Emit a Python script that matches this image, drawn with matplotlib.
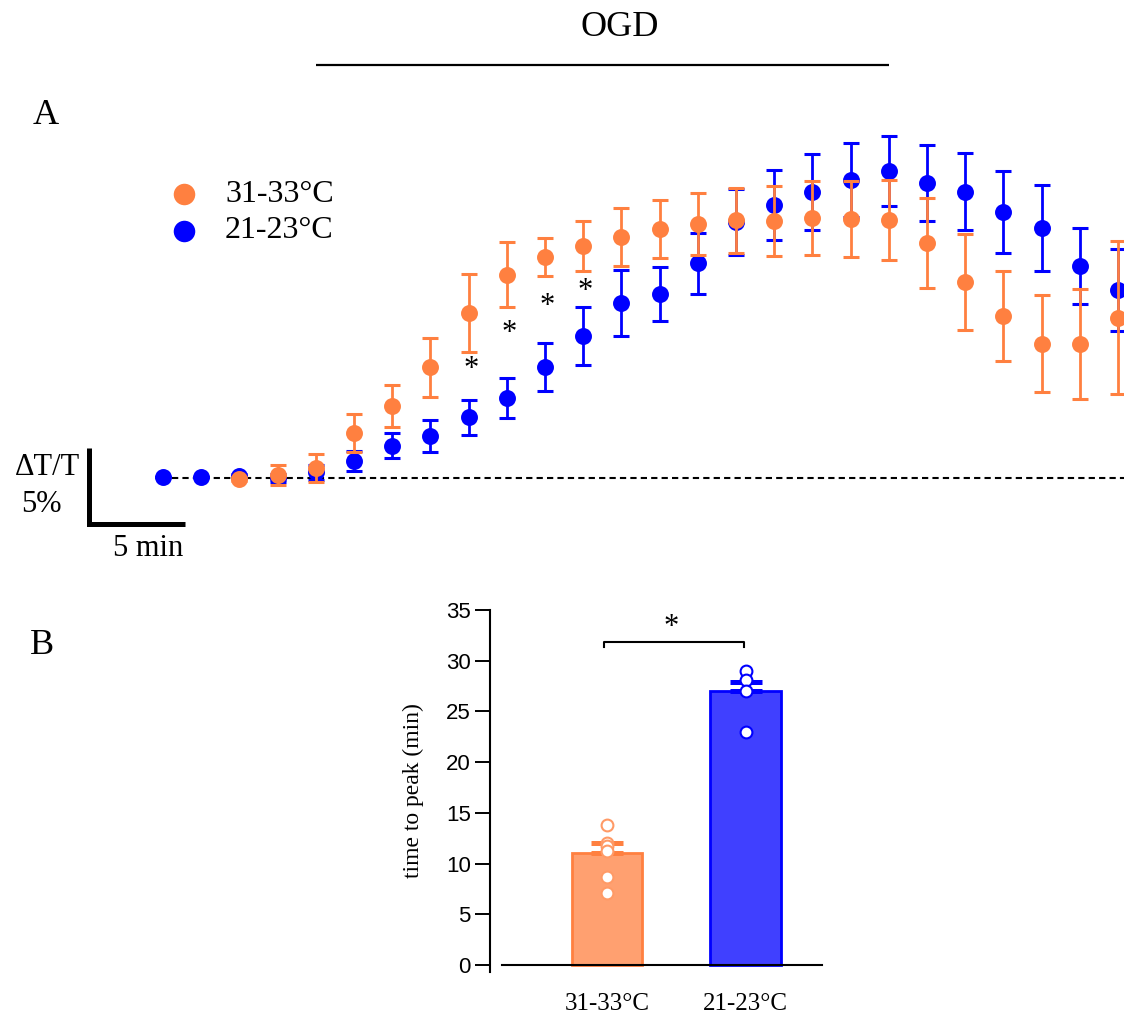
import matplotlib
matplotlib.use("Agg")
import matplotlib.pyplot as plt
from matplotlib.lines import Line2D
import numpy as np

# ---------------- data ----------------
series_names = ["31-33°C", "21-23°C"]
orange = "#FF8040"
blue = "#0000FF"

# Panel A: time relative to OGD onset (min), dT/T (%)
time_min = [-8, -6, -4, -2, 0, 2, 4, 6, 8, 10, 12, 14, 16, 18, 20, 22, 24,
            26, 28, 30, 32, 34, 36, 38, 40, 42]
warm_mean = [np.nan, np.nan, -0.07, 0.20, 0.66, 2.96, 4.74, 7.30, 10.86, 13.36,
             14.54, 15.26, 15.86, 16.38, 16.71, 16.97, 16.91, 17.11, 17.04,
             16.97, 15.46, 12.89, 10.66, 8.82, 8.82, 10.53]
warm_sem = [np.nan, np.nan, 0.15, 0.66, 0.92, 1.22, 1.38, 1.94, 2.57, 2.14,
            1.25, 1.64, 1.88, 1.91, 2.04, 2.14, 2.30, 2.43, 2.50, 2.63, 2.96,
            3.16, 2.99, 3.19, 3.62, 5.03]
cool_mean = [0.07, 0.07, 0.13, 0.00, 0.39, 1.12, 2.11, 2.76, 4.01, 5.26, 7.30,
             9.34, 11.51, 12.11, 14.14, 16.84, 17.96, 18.82, 19.61, 20.20,
             19.41, 18.82, 17.50, 16.45, 13.95, 12.37]
cool_sem = [0.0, 0.0, 0.15, 0.25, 0.49, 0.63, 0.82, 1.05, 1.15, 1.32, 1.55,
            1.88, 2.20, 1.78, 2.01, 2.20, 2.30, 2.50, 2.43, 2.30, 2.50, 2.53,
            2.70, 2.80, 2.53, 2.70]
sig_times = [8, 10, 12, 14]
sig_levels = [7.15, 9.50, 11.30, 12.27]
ogd_start, ogd_end = 0, 30
scale_x_min = 5
scale_y_pct = 5

# Panel B: time to peak (min)
peak_mean = [11.0, 27.0]
peak_sem = [1.0, 0.9]
warm_peaks = [13.8, 12.0, 11.7, 11.2, 8.7, 7.1]
cool_peaks = [29.0, 28.1, 27.0, 23.0]
yticks_b = [0, 5, 10, 15, 20, 25, 30, 35]

# ---------------- figure ----------------
W, H = 1124, 1017
fig = plt.figure(figsize=(W / 100, H / 100), dpi=100)
SERIF = ["Liberation Serif", "DejaVu Serif"]
SANS = ["Liberation Sans", "DejaVu Sans"]


def fx(p):
    return p / W


def fy(p):
    return 1 - p / H


# ---- Panel A axes (pixel-calibrated) ----
top_h = 580
axA = fig.add_axes([0, fy(top_h), 1, top_h / H])
axA.axis("off")
px_per_min = 19.1
x0 = 315.8
px_per_pct = 15.2
y0 = 478
axA.set_xlim(-x0 / px_per_min, (W - x0) / px_per_min)
axA.set_ylim((y0 - top_h) / px_per_pct, y0 / px_per_pct)

axA.axhline(0, xmin=fx(172), xmax=1, color="black", lw=1.5, ls=(0, (3, 2)), zorder=1)

eb_kw = dict(fmt="o", markersize=12.2, elinewidth=2, capsize=5.8, capthick=2.2,
             clip_on=False)
for mean, sem, col, z in [(cool_mean, cool_sem, blue, 2), (warm_mean, warm_sem, orange, 3)]:
    cont = axA.errorbar(time_min, mean, yerr=sem, color=col, zorder=z, **eb_kw)
    cont.lines[0].set_markeredgewidth(0)

for t, lv in zip(sig_times, sig_levels):
    axA.text(t + 0.12, lv, "*", ha="center", va="center", fontsize=22,
             family=SERIF, color="black")

# OGD bar
ogd_y = (y0 - 65) / px_per_pct
axA.plot([ogd_start, ogd_end], [ogd_y, ogd_y], color="black", lw=1.6, solid_capstyle="butt")
fig.text(fx(620), fy(28), "OGD", ha="center", va="center", fontsize=26, family=SERIF)

# scale bar
sb_t = (89.5 - x0) / px_per_min
sb_v = (y0 - 524) / px_per_pct
axA.plot([sb_t, sb_t, sb_t + scale_x_min], [sb_v + scale_y_pct, sb_v, sb_v],
         color="black", lw=3.6, solid_joinstyle="miter", solid_capstyle="butt")
fig.text(fx(47), fy(467), "ΔT/T", ha="center", va="center", fontsize=22, family=SERIF)
fig.text(fx(41), fy(504), "5%", ha="center", va="center", fontsize=22, family=SERIF)
fig.text(fx(148), fy(549), "5 min", ha="center", va="center", fontsize=22, family=SERIF)

# legend (manual)
for i, (name, col) in enumerate(zip(series_names, [orange, blue])):
    yy = 194 + 37 * i
    fig.add_artist(Line2D([fx(184)], [fy(yy)], marker="o", markersize=15.5,
                          color=col, markeredgewidth=0, transform=fig.transFigure))
    fig.text(fx(225), fy(yy), name, ha="left", va="center", fontsize=23, family=SERIF)

fig.text(fx(46), fy(116), "A", ha="center", va="center", fontsize=26, family=SERIF)
fig.text(fx(42), fy(645), "B", ha="center", va="center", fontsize=26, family=SERIF)

# ---- Panel B ----
b_left, b_right, b_top, b_bot = 502, 822, 610, 972
axB = fig.add_axes([fx(b_left), fy(b_bot), (b_right - b_left) / W, (b_bot - b_top) / H])
unit = 138.5
cx0 = 607
axB.set_xlim((b_left - cx0) / unit, (b_right - cx0) / unit)
axB.set_ylim(-0.7, 35)
xpos = [0, 1]
face = ["#FFA070", "#4040FF"]
edge = [orange, blue]
axB.bar(xpos, peak_mean, width=0.51, color=face, edgecolor=edge, linewidth=2, zorder=2)
for x, m, s, c in zip(xpos, peak_mean, peak_sem, edge):
    axB.errorbar([x], [m], yerr=[[0], [s]], fmt="none", ecolor=c, elinewidth=2,
                 capsize=11.5, capthick=3.6, zorder=3)
axB.plot([xpos[0]] * len(warm_peaks), warm_peaks, "o", ms=8.5, mfc="white",
         mec="#FF9A66", mew=1.5, zorder=4, clip_on=False)
axB.plot([xpos[1]] * len(cool_peaks), cool_peaks, "o", ms=8.5, mfc="white",
         mec=blue, mew=1.5, zorder=4, clip_on=False)

for sp in ["top", "right"]:
    axB.spines[sp].set_visible(False)
axB.spines["left"].set_position(("outward", 8.6))
axB.spines["left"].set_linewidth(1.5)
axB.spines["bottom"].set_position(("data", 0))
axB.spines["bottom"].set_linewidth(1.5)
axB.set_yticks(yticks_b)
axB.set_yticklabels([str(v) for v in yticks_b], family=SANS, fontsize=16)
axB.tick_params(axis="y", direction="out", length=10.8, width=1.4, pad=3)
axB.set_xticks(xpos)
axB.set_xticklabels(series_names, family=SERIF, fontsize=18)
axB.tick_params(axis="x", length=0, pad=20)
axB.set_ylabel("time to peak (min)", family=SERIF, fontsize=17, labelpad=16)

# significance bracket
br_y, br_d = 31.85, 0.45
axB.plot([xpos[0] - 0.02, xpos[0] - 0.02, xpos[1] - 0.01, xpos[1] - 0.01],
         [br_y - br_d, br_y, br_y, br_y - br_d], color="black", lw=1.5, clip_on=False)
axB.text(0.46, 33.3, "*", ha="center", va="center", fontsize=22, family=SERIF)

fig.savefig("out.png", dpi=100)
